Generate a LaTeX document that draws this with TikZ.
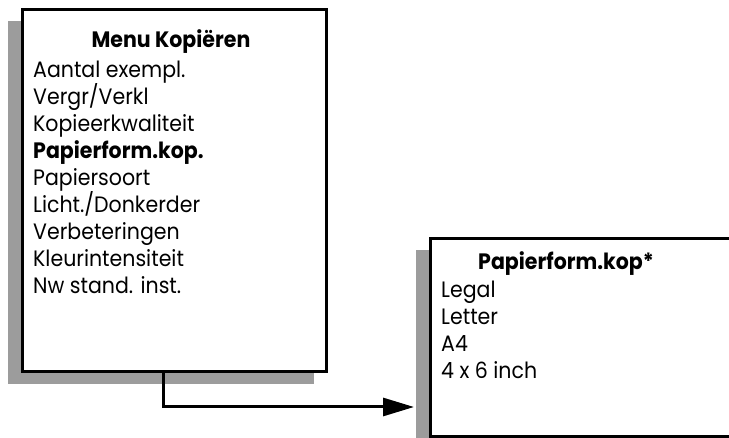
\documentclass[tikz,border=0pt]{standalone}
\usepackage{fontspec}
\setmainfont{Poppins}[FakeStretch=0.92]
\usetikzlibrary{arrows.meta}
\definecolor{shade}{HTML}{9C9C9C}
\begin{document}
\begin{tikzpicture}[x=1pt,y=-1pt,
  shadowbox/.style={fill=shade, draw=none, inner sep=0pt},
  panel/.style={draw=black, fill=white, line width=3pt, inner sep=0pt},
  item/.style={anchor=base west, inner sep=0pt, font=\fontsize{22.3}{22.3}\selectfont},
  title/.style={anchor=base, inner sep=0pt, font=\fontsize{22.3}{22.3}\selectfont\bfseries},
  link/.style={line width=3pt, -{Triangle[length=31pt,width=18pt]}}]
\useasboundingbox (0,0) rectangle (729,438);
% left menu
\node[shadowbox, minimum width=306pt, minimum height=363pt] (menushadow) at (161,202.5) {};
\node[panel, minimum width=304pt, minimum height=362pt] (menu) at (174,191) {};
\node[title] (mtitle) at (171,48) {Menu Kopiëren};
\node[item] (m1) at (33,77.5) {Aantal exempl.};
\node[item] (m2) at (33,104.5) {Vergr/Verkl};
\node[item] (m3) at (33,131.5) {Kopieerkwaliteit};
\node[item, font=\fontsize{22.3}{22.3}\selectfont\bfseries] (m4) at (33,158.5) {Papierform.kop.};
\node[item] (m5) at (33,185.5) {Papiersoort};
\node[item] (m6) at (33,212.5) {Licht./Donkerder};
\node[item] (m7) at (33,239.5) {Verbeteringen};
\node[item] (m8) at (33,266.5) {Kleurintensiteit};
\node[item] (m9) at (33,293.5) {Nw stand. inst.};
% right submenu
\node[shadowbox, minimum width=304pt, minimum height=200pt] (subshadow) at (568,350) {};
\node[panel, minimum width=310pt, minimum height=197.5pt] (sub) at (585,337.75) {};
\node[title] (stitle) at (566,270) {Papierform.kop*};
\node[item] (s1) at (441,297.5) {Legal};
\node[item] (s2) at (441,324.5) {Letter};
\node[item] (s3) at (441,351.5) {A4};
\node[item] (s4) at (441,378.5) {4 x 6 inch};
% connector
\coordinate (tip) at (414,407);
\draw[link] ([xshift=-11pt]menu.south) |- (tip);
\end{tikzpicture}
\end{document}
